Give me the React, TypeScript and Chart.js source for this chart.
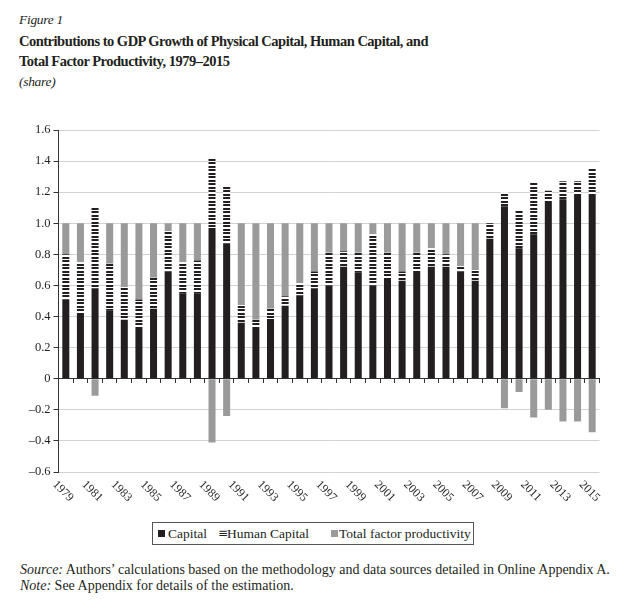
import React, { useEffect, useRef } from 'react';
import { Chart, registerables } from 'chart.js';

Chart.register(...registerables);

const years = [
  '1979', '1980', '1981', '1982', '1983', '1984', '1985', '1986', '1987', '1988',
  '1989', '1990', '1991', '1992', '1993', '1994', '1995', '1996', '1997', '1998',
  '1999', '2000', '2001', '2002', '2003', '2004', '2005', '2006', '2007', '2008',
  '2009', '2010', '2011', '2012', '2013', '2014', '2015',
];

const labeledYears = [
  '1979', '1981', '1983', '1985', '1987', '1989', '1991', '1993', '1995', '1997',
  '1999', '2001', '2003', '2005', '2007', '2009', '2011', '2013', '2015',
];

const capital = [
  0.51, 0.41, 0.58, 0.44, 0.38, 0.32, 0.45, 0.69, 0.55, 0.55,
  0.97, 0.87, 0.36, 0.32, 0.385, 0.47, 0.535, 0.58, 0.6, 0.72,
  0.685, 0.6, 0.635, 0.63, 0.68, 0.72, 0.72, 0.69, 0.63, 0.9,
  1.11, 0.84, 0.93, 1.13, 1.155, 1.175, 1.175,
];

const humanCapital = [
  0.29, 0.34, 0.53, 0.3, 0.21, 0.19, 0.2, 0.26, 0.2, 0.21,
  0.445, 0.365, 0.115, 0.06, 0.065, 0.06, 0.08, 0.11, 0.21, 0.1,
  0.125, 0.33, 0.175, 0.06, 0.13, 0.12, 0.08, 0.035, 0.07, 0.1,
  0.09, 0.245, 0.33, 0.08, 0.115, 0.095, 0.18,
];

const tfp = [
  0.2, 0.25, -0.11, 0.26, 0.41, 0.49, 0.35, 0.05, 0.25, 0.24,
  -0.41, -0.24, 0.525, 0.62, 0.55, 0.47, 0.385, 0.31, 0.19, 0.18,
  0.19, 0.07, 0.19, 0.31, 0.19, 0.16, 0.2, 0.275, 0.3, 0,
  -0.19, -0.085, -0.25, -0.2, -0.275, -0.275, -0.345,
];

const seriesNames = ['Capital', 'Human Capital', 'Total factor productivity'];
const yMin = -0.6;
const yMax = 1.6;
const yStep = 0.2;

const INK = '#231f20';
const GREY = '#9a9a9a';
const SERIF = '"Liberation Serif", "Times New Roman", serif';

export default function App() {
  const ref = useRef<HTMLCanvasElement>(null);

  useEffect(() => {
    const canvas = ref.current;
    if (!canvas) return;
    const tile = document.createElement('canvas');
    tile.width = 4;
    tile.height = 7;
    const tctx = tile.getContext('2d')!;
    tctx.fillStyle = '#ffffff';
    tctx.fillRect(0, 0, 4, 7);
    tctx.fillStyle = INK;
    [0, 1, 3, 4].forEach((r) => tctx.fillRect(0, r, 4, 1));
    const stripes = canvas.getContext('2d')!.createPattern(tile, 'repeat')!;

    const xLabelPlugin = {
      id: 'rotatedYearLabels',
      afterDraw(chart: any) {
        const { ctx, chartArea, scales } = chart;
        const xs = scales.x;
        ctx.save();
        ctx.font = `12px ${SERIF}`;
        ctx.fillStyle = INK;
        ctx.textAlign = 'left';
        ctx.textBaseline = 'top';
        years.forEach((yr, i) => {
          if (!labeledYears.includes(yr)) return;
          const px = xs.getPixelForValue(i) - 7;
          const py = chartArea.bottom + 6.5;
          ctx.save();
          ctx.translate(px, py);
          ctx.rotate(Math.PI / 4);
          ctx.fillText(yr, 0, 0);
          ctx.restore();
        });
        ctx.restore();
      },
    };

    const chart = new Chart(canvas, {
      type: 'bar',
      data: {
        labels: years,
        datasets: [
          { label: seriesNames[0], data: capital, backgroundColor: INK, borderWidth: 0 },
          { label: seriesNames[1], data: humanCapital, backgroundColor: stripes, borderWidth: 0 },
          { label: seriesNames[2], data: tfp, backgroundColor: GREY, borderWidth: 0 },
        ],
      },
      options: {
        animation: false,
        responsive: false,
        devicePixelRatio: 1,
        events: [],
        layout: { padding: { top: 20, right: 40.5, bottom: 38, left: 0 } },
        datasets: { bar: { barPercentage: 0.48, categoryPercentage: 1 } },
        plugins: {
          legend: { display: false },
          tooltip: { enabled: false },
          title: { display: false },
        },
        scales: {
          x: {
            type: 'category',
            stacked: true,
            position: { y: 0 } as any,
            afterFit: (s: any) => { s.height = 38; },
            grid: {
              display: true,
              drawOnChartArea: false,
              drawTicks: true,
              tickLength: 4,
              tickColor: '#333',
              offset: true,
            },
            border: { display: true, color: '#333', width: 1 },
            ticks: { display: false },
          },
          y: {
            type: 'linear',
            stacked: true,
            min: yMin,
            max: yMax,
            afterFit: (s: any) => { s.width = 58.5; },
            grid: {
              color: '#d2d2d2',
              lineWidth: 1,
              drawTicks: true,
              tickLength: 5,
              tickColor: '#333',
            },
            border: { display: true, color: '#333', width: 1 },
            ticks: {
              stepSize: yStep,
              padding: 3,
              color: INK,
              font: { family: SERIF, size: 12.5 },
              callback: (v: any) => {
                const n = Number(v);
                if (Math.abs(n) < 1e-9) return '0';
                return (n < 0 ? '\u2013' : '') + Math.abs(n).toFixed(1);
              },
            },
          },
        },
      },
      plugins: [xLabelPlugin],
    });
    return () => chart.destroy();
  }, []);

  const abs = (extra: React.CSSProperties): React.CSSProperties => ({
    position: 'absolute',
    margin: 0,
    whiteSpace: 'nowrap',
    ...extra,
  });

  return (
    <div
      style={{
        position: 'absolute',
        left: 0,
        top: 0,
        width: 640,
        height: 611,
        background: '#fff',
        fontFamily: SERIF,
        color: INK,
        overflow: 'hidden',
      }}
    >
      <div style={abs({ left: 19, top: 12.3, fontSize: 13.5, lineHeight: '16px', fontStyle: 'italic', letterSpacing: '-0.3px' })}>
        Figure 1
      </div>
      <div style={abs({ left: 19, top: 31, fontSize: 14.5, lineHeight: '20px', fontWeight: 'bold', letterSpacing: '-0.5px' })}>
        Contributions to GDP Growth of Physical Capital, Human Capital, and
        <br />
        Total Factor Productivity, 1979–2015
      </div>
      <div style={abs({ left: 19, top: 74.3, fontSize: 13.5, lineHeight: '16px', fontStyle: 'italic', letterSpacing: '-0.3px' })}>
        (share)
      </div>

      <canvas
        ref={ref}
        width={640}
        height={400}
        style={{ position: 'absolute', left: 0, top: 110, width: 640, height: 400 }}
      />

      <div
        style={abs({
          left: 152,
          top: 522,
          width: 322,
          height: 23,
          border: '1px solid #555',
          boxSizing: 'border-box',
          fontSize: 13.5,
          lineHeight: '21px',
        })}
      >
        <span style={abs({ left: 5, top: 7, width: 7, height: 7, background: INK })} />
        <span style={abs({ left: 15, top: 0 })}>{seriesNames[0]}</span>
        <span style={abs({ left: 65, top: 0, fontFamily: '"DejaVu Sans", sans-serif', fontSize: 12 })}>≡</span>
        <span style={abs({ left: 74, top: 0 })}>{seriesNames[1]}</span>
        <span style={abs({ left: 178, top: 7, width: 7, height: 7, background: GREY })} />
        <span style={abs({ left: 186, top: 0 })}>{seriesNames[2]}</span>
      </div>

      <div style={abs({ left: 20, top: 562.3, fontSize: 14, lineHeight: '16px' })}>
        <i>Source:</i> Authors’ calculations based on the methodology and data sources detailed in Online Appendix A.
        <br />
        <i>Note:</i> See Appendix for details of the estimation.
      </div>
    </div>
  );
}
